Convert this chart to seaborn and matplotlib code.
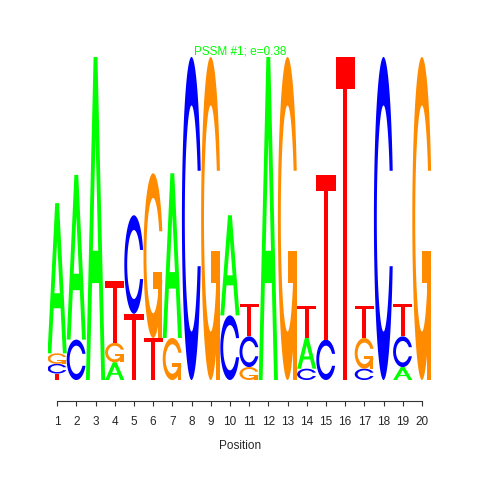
import numpy as np
import pandas as pd
import seaborn as sns
import matplotlib
matplotlib.use("Agg")
from matplotlib import pyplot as plt
from matplotlib.patches import Polygon

# information content (bits) per base
positions = list(range(1, 21))
bits_A = [0.93, 1.02, 2.00, 0.11, 0, 0, 1.02, 0, 0, 0.62, 0, 2.00, 0, 0.19, 0, 0, 0, 0, 0.08, 0]
bits_C = [0.06, 0.25, 0, 0, 0.61, 0, 0, 2.00, 0, 0.40, 0.19, 0, 0, 0.07, 0.25, 0, 0.07, 2.00, 0.19, 0]
bits_G = [0.065, 0, 0, 0.12, 0, 1.02, 0.26, 0, 2.00, 0, 0.08, 0, 2.00, 0, 0, 0, 0.19, 0, 0, 2.00]
bits_T = [0.04, 0, 0, 0.38, 0.41, 0.26, 0, 0, 0, 0, 0.20, 0, 0, 0.20, 1.02, 2.00, 0.20, 0, 0.20, 0]

title = "PSSM #1; e=0.38"
colors = {"A": "#00ff00", "C": "#0000ff", "G": "#ff8c00", "T": "#ff0000"}

df = pd.DataFrame({"A": bits_A, "C": bits_C, "G": bits_G, "T": bits_T}, index=positions)


# letter outlines in a unit box, (list of (polygon, fill)) -- same shapes seqLogo uses
def c_outline():
    a1 = np.linspace(0.3 + np.pi / 2, np.pi, 100)
    a2 = np.linspace(np.pi, 1.5 * np.pi, 100)
    xl = np.concatenate([0.5 + 0.5 * np.sin(a1), 0.5 + 0.5 * np.sin(a2)])
    yl = np.concatenate([0.5 + 0.5 * np.cos(a1), 0.5 + 0.5 * np.cos(a2)])
    x = np.concatenate([xl, xl[::-1]])
    y = np.concatenate([yl, 1 - yl[::-1]])
    hmax = (0.5 + 0.5 * np.cos(a1)).max()
    xi1 = 0.5 + 0.35 * np.sin(a1)
    yi1 = 0.5 + 0.35 * np.cos(a1)
    keep = yi1 <= hmax
    xi1, yi1 = xi1[keep], yi1[keep]
    yi1[0] = hmax
    xi = np.concatenate([xi1, 0.5 + 0.35 * np.sin(a2)])
    yi = np.concatenate([yi1, 0.5 + 0.35 * np.cos(a2)])
    x1 = np.concatenate([xi, xi[::-1]])
    y1 = np.concatenate([yi, 1 - yi[::-1]])
    x = np.concatenate([x, x1[::-1]])
    y = np.concatenate([y, y1[::-1]])
    r1 = (0.5 + 0.5 * np.sin(a1)).max()
    return np.column_stack([x, y]), r1


def glyph(letter):
    if letter == "A":
        outer = np.array([[0, 0], [4, 10], [6, 10], [10, 0], [8, 0], [6.8, 3], [3.2, 3], [2, 0], [0, 0]]) / 10
        hole = np.array([[3.6, 4], [5, 7.5], [6.4, 4], [3.6, 4]]) / 10
        return [(outer, None), (hole, "white")]
    if letter == "T":
        return [(np.array([[0, 10], [10, 10], [10, 9], [6, 9], [6, 0], [4, 0], [4, 9], [0, 9]]) / 10, None)]
    shape, r1 = c_outline()
    if letter == "C":
        return [(shape, None)]
    h1 = 0.4
    bar = np.array([[r1, h1], [0.5, h1], [0.5, h1 - 0.1], [r1 - 0.2, h1 - 0.1],
                    [r1 - 0.2, 0], [r1, 0], [r1, h1]])
    return [(shape, None), (bar, None)]


def draw_letter(ax, letter, x, y0, h, width=1.0):
    for poly, fill in glyph(letter):
        xy = np.column_stack([x - width / 2 + poly[:, 0] * width, y0 + poly[:, 1] * h])
        ax.add_patch(Polygon(xy, closed=True, facecolor=fill or colors[letter],
                             edgecolor="none", lw=0))


sns.set_style("white")
plt.rcParams["font.family"] = ["Liberation Sans", "DejaVu Sans"]

fig = plt.figure(figsize=(4.8, 4.8), dpi=100)
ax = fig.add_axes([0.099, 0.1646, 0.800, 0.7167])

for pos, row in df.iterrows():
    y0 = 0.0
    for letter, h in sorted(row.items(), key=lambda kv: kv[1]):
        if h <= 0:
            continue
        draw_letter(ax, letter, pos, y0, h)
        y0 += h

ax.set_xlim(0.5, 20.5)
ax.set_ylim(-0.13, 2.0)
sns.despine(ax=ax, left=True, top=True, right=True)
ax.spines["bottom"].set_bounds(1, 20)
ax.spines["bottom"].set_color("#333333")
ax.spines["bottom"].set_linewidth(0.8)
ax.set_xticks(positions)
ax.set_xticklabels([str(p) for p in positions], fontsize=8.5)
ax.tick_params(axis="x", direction="out", length=3.6, width=0.8, color="#333333", pad=7, bottom=True)
ax.set_yticks([])
ax.set_facecolor("white")

fig.text(0.5, 0.892, title, color="#00ff00", fontsize=8.5, ha="center", va="center")
fig.text(0.5, 0.071, "Position", fontsize=8.5, ha="center", va="center")

fig.savefig("out.png", dpi=100, facecolor="white")
